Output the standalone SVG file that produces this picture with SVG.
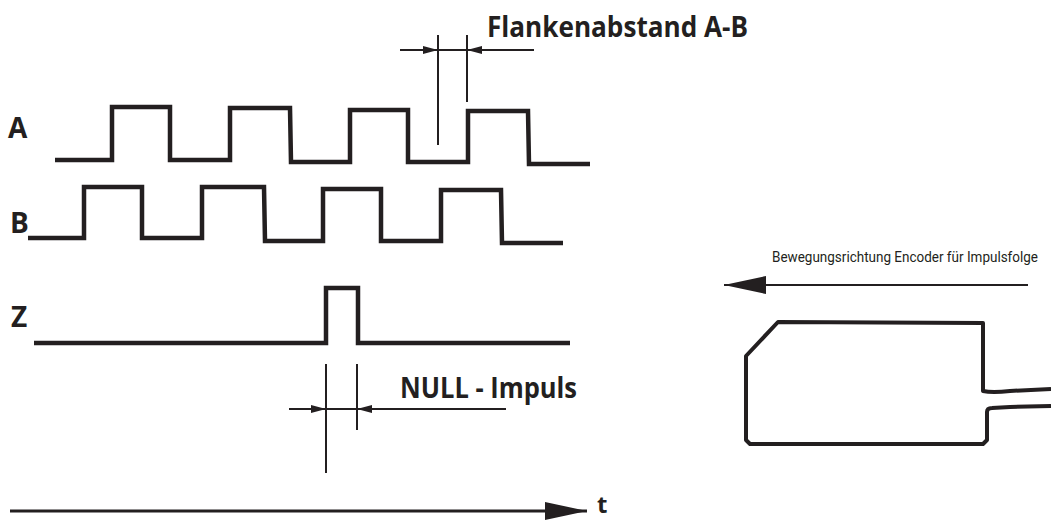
<svg xmlns="http://www.w3.org/2000/svg" width="1051" height="520" viewBox="0 0 1051 520">
<style>
.sig{fill:none;stroke:#231f20;stroke-width:4.5;stroke-linejoin:miter;stroke-linecap:butt}
.thin{fill:none;stroke:#231f20;stroke-width:2}
.axis{fill:none;stroke:#231f20;stroke-width:3}
.lbl{font-family:"Open Sans","Liberation Sans",sans-serif;font-weight:bold;fill:#231f20}
.small{font-family:Roboto,"Liberation Sans",sans-serif;font-size:14px;fill:#231f20}
.enc{fill:none;stroke:#231f20;stroke-width:4;stroke-linejoin:round}
</style>
<defs>
<marker id="dim" markerUnits="userSpaceOnUse" viewBox="0 0 15 8" refX="15" refY="4" markerWidth="15" markerHeight="8" orient="auto">
<path d="M0,0 L15,4 L0,8 z" fill="#231f20"/>
</marker>
<marker id="big" markerUnits="userSpaceOnUse" viewBox="0 0 42 18" refX="42" refY="9" markerWidth="42" markerHeight="18" orient="auto">
<path d="M0,0 L42,9 L0,18 z" fill="#231f20"/>
</marker>
</defs>
<g id="signal-A">
<text class="lbl" x="8" y="138" font-size="28">A</text>
<polyline class="sig" points="55,160 112,160 112,107 170,107 170,160 230,160 230,108 290,108 291,162 350,162 350,110 408,110 408,162 468,162 468,111 528,111 529,164 590,164"/>
</g>
<g id="signal-B">
<text class="lbl" x="10" y="233" font-size="28">B</text>
<polyline class="sig" points="28,238 84,238 84,187 142,187 142,238 202,238 202,187 264,187 265,241 323,241 323,189 381,189 381,241 441,241 441,190 501,190 502,243 563,243"/>
</g>
<g id="signal-Z">
<text class="lbl" x="11" y="327" font-size="28">Z</text>
<polyline class="sig" points="34,343 326,343 326,288 358,288 358,343 570,343"/>
</g>
<g id="label-flanken">
<text class="lbl" x="487" y="37" font-size="28" textLength="261" lengthAdjust="spacingAndGlyphs">Flankenabstand A-B</text>
</g>
<g id="label-null">
<text class="lbl" x="400" y="398" font-size="28" textLength="177" lengthAdjust="spacingAndGlyphs">NULL - Impuls</text>
</g>
<g id="time-axis">
<text class="lbl" x="597" y="513" font-size="24">t</text>
</g>
<g id="encoder">
<text class="small" x="772" y="262" textLength="266" lengthAdjust="spacingAndGlyphs">Bewegungsrichtung Encoder für Impulsfolge</text>
<path class="enc" d="M1051,389 L1010,391 Q992,393 983,391 L983,323 L778,322 L746,356 L746,440 L750,444 L983,444 L987,440 L987,412 Q987,408 992,408 L1010,407 L1051,406"/>
</g>
<g id="connectors">
<line class="thin" x1="438" y1="35" x2="438" y2="145"/>
<line class="thin" x1="467" y1="35" x2="467" y2="102"/>
<line class="thin" x1="438" y1="50" x2="467" y2="50"/>
<line class="thin" x1="400" y1="50" x2="438" y2="50" marker-end="url(#dim)"/>
<line class="thin" x1="534" y1="50" x2="467" y2="50" marker-end="url(#dim)"/>
<line class="thin" x1="326" y1="364" x2="326" y2="473"/>
<line class="thin" x1="357" y1="364" x2="357" y2="430"/>
<line class="thin" x1="326" y1="409" x2="357" y2="409"/>
<line class="thin" x1="289" y1="409" x2="326" y2="409" marker-end="url(#dim)"/>
<line class="thin" x1="506" y1="409" x2="357" y2="409" marker-end="url(#dim)"/>
<line class="axis" x1="10" y1="511" x2="587" y2="511" marker-end="url(#big)"/>
<line class="thin" x1="1028" y1="285" x2="724" y2="285" marker-end="url(#big)"/>
</g>
</svg>
